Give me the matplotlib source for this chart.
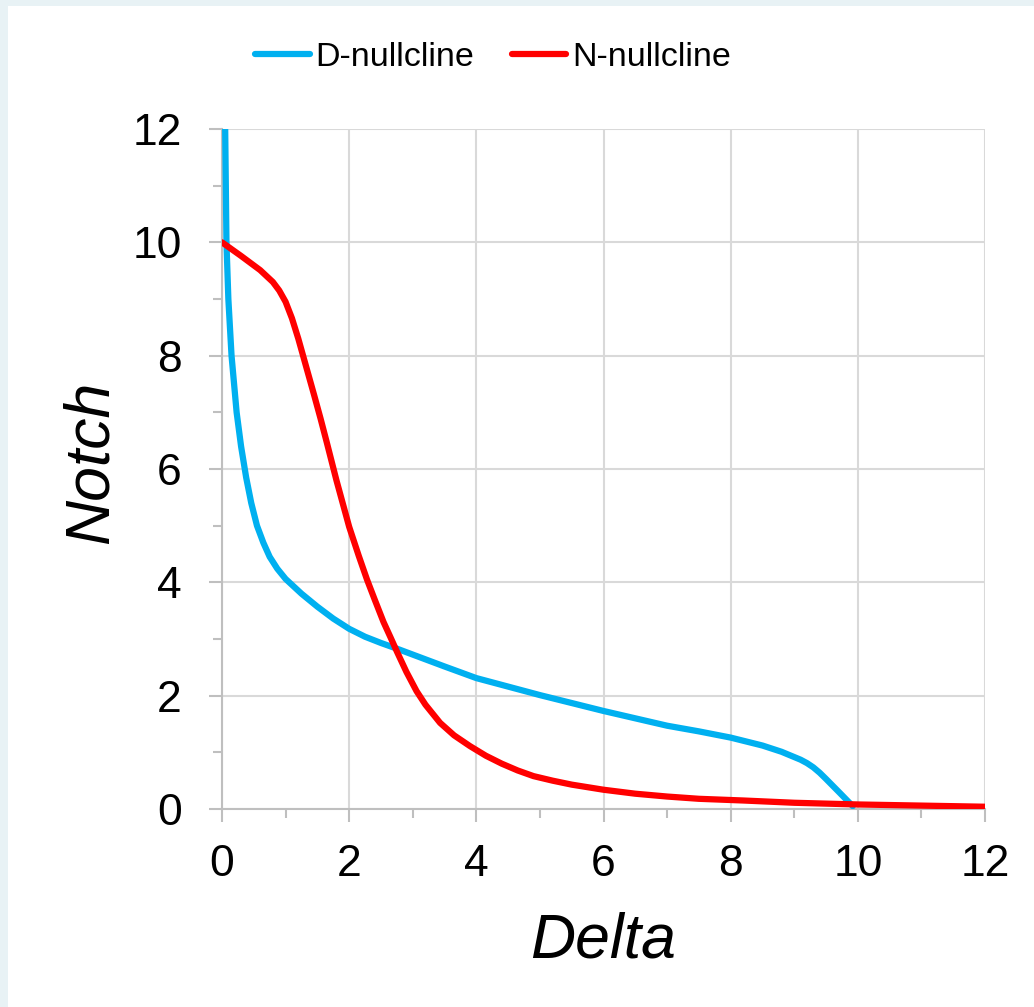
import matplotlib.pyplot as plt
from matplotlib.patches import Rectangle
from matplotlib.ticker import MultipleLocator

plt.rcParams['font.family'] = ['Liberation Sans', 'DejaVu Sans']

# D-nullcline
d_delta = [0.05, 0.06, 0.07, 0.10, 0.15, 0.23, 0.30, 0.38, 0.46, 0.55, 0.65,
           0.75, 0.87, 1.0, 1.25, 1.5, 1.75, 2.0, 2.25, 2.5, 2.75, 3.0, 3.5,
           4.0, 4.5, 5.0, 5.5, 6.0, 6.5, 7.0, 7.5, 8.0, 8.5, 8.8, 9.1, 9.2,
           9.3, 9.4, 9.5, 9.72, 9.92]
d_notch = [12.0, 11.0, 10.0, 9.0, 8.0, 7.0, 6.4, 5.85, 5.4, 5.0, 4.7,
           4.45, 4.24, 4.06, 3.8, 3.57, 3.36, 3.18, 3.04, 2.93, 2.83, 2.725,
           2.515, 2.31, 2.16, 2.01, 1.87, 1.73, 1.6, 1.47, 1.37, 1.26, 1.12,
           1.01, 0.87, 0.81, 0.735, 0.64, 0.53, 0.28, 0.05]

# N-nullcline
n_delta = [0.0, 0.3, 0.6, 0.8, 0.9, 1.0, 1.1, 1.2, 1.3, 1.45, 1.55,
           1.65, 1.8, 2.0, 2.15, 2.28, 2.4, 2.54, 2.65, 2.75, 2.9, 3.06,
           3.2, 3.43, 3.65, 3.9, 4.15, 4.4, 4.65, 4.9, 5.2, 5.5, 6.0, 6.5,
           7.0, 7.5, 8.2, 9.0, 10.0, 11.0, 12.0]
n_notch = [10.0, 9.76, 9.51, 9.3, 9.15, 8.95, 8.66, 8.3, 7.9, 7.3, 6.89,
           6.46, 5.8, 4.98, 4.47, 4.05, 3.7, 3.3, 3.03, 2.78, 2.42, 2.08,
           1.84, 1.52, 1.3, 1.11, 0.94, 0.8, 0.68, 0.58, 0.5, 0.43, 0.34,
           0.27, 0.22, 0.18, 0.15, 0.11, 0.08, 0.06, 0.04]

fig = plt.figure(figsize=(10.34, 10.07), dpi=100, facecolor='#e8f2f5')
fig.patches.append(Rectangle((8 / 1034, 0), 1, 1 - 6 / 1007,
                             transform=fig.transFigure, facecolor='white',
                             edgecolor='none', zorder=-10))

ax = fig.add_axes([222 / 1034, 1 - 809 / 1007, 763 / 1034, 680 / 1007])
ax.set_facecolor('none')

ax.plot(d_delta, d_notch, color='#00b0f0', lw=4.5, solid_capstyle='round',
        solid_joinstyle='round', label='D-nullcline', zorder=3)
ax.plot(n_delta, n_notch, color='#ff0000', lw=4.5, solid_capstyle='round',
        solid_joinstyle='round', label='N-nullcline', zorder=4)

ax.set_xlim(0, 12)
ax.set_ylim(0, 12)
ax.xaxis.set_major_locator(MultipleLocator(2))
ax.yaxis.set_major_locator(MultipleLocator(2))
ax.xaxis.set_minor_locator(MultipleLocator(1))
ax.yaxis.set_minor_locator(MultipleLocator(1))

ax.grid(True, which='major', color='#d9d9d9', lw=1.5, zorder=1)
ax.set_axisbelow(True)
for s in ['top', 'right']:
    ax.spines[s].set_visible(False)
for s in ['left', 'bottom']:
    ax.spines[s].set_color('#bfbfbf')
    ax.spines[s].set_linewidth(1.5)

ax.tick_params(which='major', direction='out', length=9.4, width=1.5,
               color='#bfbfbf', labelsize=32, labelcolor='black')
ax.tick_params(which='minor', direction='out', length=6.8, width=1.5,
               color='#bfbfbf')
ax.tick_params(axis='x', which='major', pad=15.5)
ax.tick_params(axis='y', which='major', pad=19.5)

fig.text(603 / 1034, 1 - 957 / 1007, 'Delta', fontsize=45, style='italic',
         ha='center', va='baseline')
fig.text(108 / 1034, 1 - 462 / 1007, 'Notch', fontsize=45, style='italic',
         rotation=90, rotation_mode='anchor', ha='center', va='baseline')

fig.legend(loc='center', bbox_to_anchor=(493 / 1034, 1 - 57 / 1007),
           ncol=2, frameon=False, fontsize=24.5, handlelength=1.6,
           handletextpad=0.17, columnspacing=1.1)

fig.savefig('out.png', dpi=100, facecolor=fig.get_facecolor())
